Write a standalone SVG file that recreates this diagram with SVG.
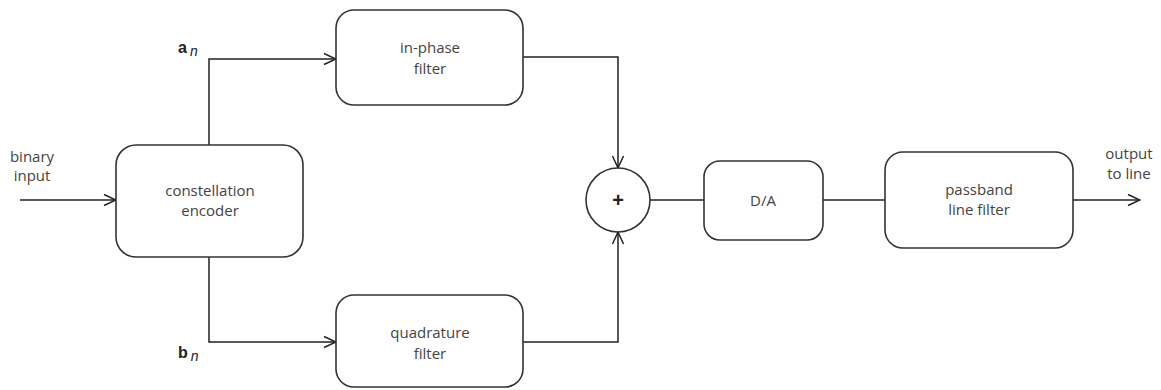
<svg xmlns="http://www.w3.org/2000/svg" width="1161" height="390" viewBox="0 0 1161 390">
<defs>
<marker id="arr" markerWidth="14" markerHeight="14" refX="13" refY="7" orient="auto" markerUnits="userSpaceOnUse">
<path d="M1,1.5 L13,7 L1,12.5" fill="none" stroke="#222" stroke-width="1.5"/>
</marker>
<style>
.box{fill:#fff;stroke:#333;stroke-width:1.6}
.ln{fill:none;stroke:#222;stroke-width:1.5}
.t{font-family:"Open Sans","DejaVu Sans",sans-serif;font-size:15px;fill:#444;text-anchor:middle}
.lbl{font-family:"Liberation Sans",Arial,sans-serif;font-size:16px;fill:#222}
</style>
</defs>
<rect width="1161" height="390" fill="#fff"/>
<g id="connectors">
<path class="ln" d="M20,200 H116" marker-end="url(#arr)"/>
<path class="ln" d="M209,145 V59 H336" marker-end="url(#arr)"/>
<path class="ln" d="M209,257 V342 H336" marker-end="url(#arr)"/>
<path class="ln" d="M523,57 H618 V168" marker-end="url(#arr)"/>
<path class="ln" d="M523,342 H618 V232" marker-end="url(#arr)"/>
<path class="ln" d="M650,200 H704"/>
<path class="ln" d="M823,200 H885"/>
<path class="ln" d="M1073,200 H1140" marker-end="url(#arr)"/>
</g>
<g id="binary-input"><text class="t" x="32" y="162">binary</text><text class="t" x="32" y="181">input</text></g>
<g id="encoder"><rect class="box" x="116" y="145" width="187" height="112" rx="20"/><text class="t" x="210" y="196">constellation</text><text class="t" x="210" y="216">encoder</text></g>
<g id="an"><text class="lbl" x="178" y="53" font-weight="bold">a<tspan font-weight="normal" font-style="italic" font-size="14" dx="3" dy="3">n</tspan></text></g>
<g id="bn"><text class="lbl" x="178" y="358" font-weight="bold">b<tspan font-weight="normal" font-style="italic" font-size="14" dx="3" dy="3">n</tspan></text></g>
<g id="inphase"><rect class="box" x="336" y="10" width="187" height="95" rx="18"/><text class="t" x="430" y="53">in-phase</text><text class="t" x="430" y="74">filter</text></g>
<g id="quadrature"><rect class="box" x="336" y="295" width="187" height="92" rx="18"/><text class="t" x="430" y="338">quadrature</text><text class="t" x="430" y="359">filter</text></g>
<g id="sum"><circle cx="618" cy="200" r="32" fill="#fff" stroke="#333" stroke-width="1.6"/><text x="618" y="207" font-family="Liberation Sans,Arial,sans-serif" font-size="20" font-weight="bold" text-anchor="middle" fill="#222">+</text></g>
<g id="da"><rect class="box" x="704" y="161" width="119" height="79" rx="16"/><text class="t" x="763" y="206">D/A</text></g>
<g id="passband"><rect class="box" x="885" y="152" width="188" height="96" rx="18"/><text class="t" x="979" y="195">passband</text><text class="t" x="979" y="215">line filter</text></g>
<g id="output"><text class="t" x="1129" y="159">output</text><text class="t" x="1129" y="179">to line</text></g>
</svg>
